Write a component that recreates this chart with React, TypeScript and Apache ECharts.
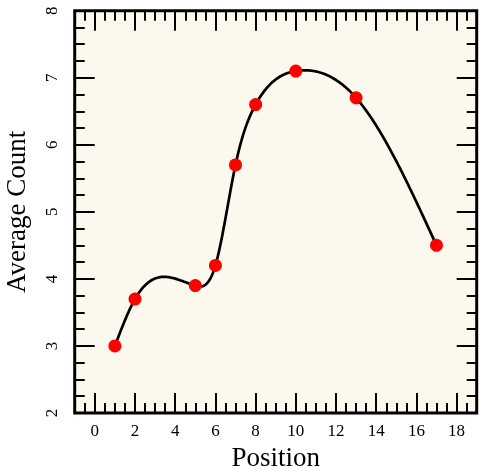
import React, { useEffect, useRef } from "react";
import * as echarts from "echarts";

const positions = [1, 2, 5, 6, 7, 8, 10, 13, 17];
const averageCounts = [3, 3.7, 3.9, 4.2, 5.7, 6.6, 7.1, 6.7, 4.5];
const xMajorTicks = [0, 2, 4, 6, 8, 10, 12, 14, 16, 18];
const xRange = [-1, 19];
const yRange = [2, 8];

const FONT = "'Liberation Serif', 'DejaVu Serif', serif";

function naturalSpline(xs: number[], ys: number[]) {
  const n = xs.length;
  const h: number[] = [];
  for (let i = 0; i < n - 1; i++) h.push(xs[i + 1] - xs[i]);
  const a: number[] = new Array(n).fill(0);
  const b: number[] = new Array(n).fill(1);
  const c: number[] = new Array(n).fill(0);
  const d: number[] = new Array(n).fill(0);
  for (let i = 1; i < n - 1; i++) {
    a[i] = h[i - 1];
    b[i] = 2 * (h[i - 1] + h[i]);
    c[i] = h[i];
    d[i] = 6 * ((ys[i + 1] - ys[i]) / h[i] - (ys[i] - ys[i - 1]) / h[i - 1]);
  }
  const cp = new Array(n).fill(0);
  const dp = new Array(n).fill(0);
  cp[0] = c[0] / b[0];
  dp[0] = d[0] / b[0];
  for (let i = 1; i < n; i++) {
    const m = b[i] - a[i] * cp[i - 1];
    cp[i] = c[i] / m;
    dp[i] = (d[i] - a[i] * dp[i - 1]) / m;
  }
  const M = new Array(n).fill(0);
  M[n - 1] = dp[n - 1];
  for (let i = n - 2; i >= 0; i--) M[i] = dp[i] - cp[i] * M[i + 1];
  return (x: number) => {
    let i = 0;
    while (i < n - 2 && x > xs[i + 1]) i++;
    const hi = h[i];
    const t1 = xs[i + 1] - x;
    const t0 = x - xs[i];
    return (
      (M[i] * t1 * t1 * t1) / (6 * hi) +
      (M[i + 1] * t0 * t0 * t0) / (6 * hi) +
      (ys[i] / hi - (M[i] * hi) / 6) * t1 +
      (ys[i + 1] / hi - (M[i + 1] * hi) / 6) * t0
    );
  };
}

export default function App() {
  const ref = useRef<HTMLDivElement>(null);
  useEffect(() => {
    if (!ref.current) return;
    const chart = echarts.init(ref.current, null, { renderer: "svg" });
    const spline = naturalSpline(positions, averageCounts);
    const tickStyle = { color: "#000", width: 2 };
    const noLine = { show: false, onZero: false };

    const minorX = (pos: string) => ({
      type: "value",
      position: pos,
      min: xRange[0],
      max: xRange[1],
      interval: 0.5,
      axisLine: noLine,
      axisTick: { show: true, inside: true, length: 10, lineStyle: tickStyle },
      axisLabel: { show: false },
      splitLine: { show: false },
    });
    const majorX = (pos: string, labels: boolean) => ({
      type: "value",
      position: pos,
      min: xRange[0],
      max: xRange[1],
      axisLine: noLine,
      axisTick: {
        show: true,
        inside: true,
        length: 20,
        customValues: xMajorTicks,
        lineStyle: tickStyle,
      },
      axisLabel: labels
        ? {
            show: true,
            customValues: xMajorTicks,
            color: "#000",
            fontSize: 17,
            fontFamily: FONT,
            margin: 9,
          }
        : { show: false },
      splitLine: { show: false },
      ...(labels
        ? {
            name: "Position",
            nameLocation: "middle",
            nameGap: 30,
            nameTextStyle: { color: "#000", fontSize: 27, fontFamily: FONT },
          }
        : {}),
    });
    const minorY = (pos: string) => ({
      type: "value",
      position: pos,
      min: yRange[0],
      max: yRange[1],
      interval: 0.25,
      axisLine: noLine,
      axisTick: { show: true, inside: true, length: 10, lineStyle: tickStyle },
      axisLabel: { show: false },
      splitLine: { show: false },
    });
    const majorY = (pos: string, labels: boolean) => ({
      type: "value",
      position: pos,
      min: yRange[0],
      max: yRange[1],
      interval: 1,
      axisLine: noLine,
      axisTick: { show: true, inside: true, length: 20, lineStyle: tickStyle },
      axisLabel: labels
        ? {
            show: true,
            rotate: 90,
            color: "#000",
            fontSize: 17,
            fontFamily: FONT,
            margin: 14.5,
            showMinLabel: true,
            showMaxLabel: true,
          }
        : { show: false },
      splitLine: { show: false },
      ...(labels
        ? {
            name: "Average Count",
            nameLocation: "middle",
            nameGap: 45,
            nameTextStyle: { color: "#000", fontSize: 27, fontFamily: FONT },
          }
        : {}),
    });

    chart.setOption({
      animation: false,
      grid: {
        left: 74.7,
        right: 2.3,
        top: 10.7,
        bottom: 58,
        containLabel: false,
        outerBoundsMode: "none",
        show: true,
        backgroundColor: "#fdf8ed",
        borderColor: "#000",
        borderWidth: 3,
      },
      xAxis: [majorX("bottom", true), minorX("bottom"), majorX("top", false), minorX("top")],
      yAxis: [majorY("left", true), minorY("left"), majorY("right", false), minorY("right")],
      series: [
        {
          type: "custom",
          xAxisIndex: 0,
          yAxisIndex: 0,
          data: positions.map((x, i) => [x, averageCounts[i]]),
          z: 2,
          renderItem: (params: any, api: any) => {
            if (params.dataIndex !== 0) return null;
            const pts: number[][] = [];
            const x0 = positions[0];
            const x1 = positions[positions.length - 1];
            const steps = 400;
            for (let k = 0; k <= steps; k++) {
              const x = x0 + ((x1 - x0) * k) / steps;
              pts.push(api.coord([x, spline(x)]));
            }
            return {
              type: "polyline",
              shape: { points: pts },
              style: { stroke: "#000", lineWidth: 2.7, fill: null },
            };
          },
        },
        {
          type: "scatter",
          xAxisIndex: 0,
          yAxisIndex: 0,
          data: positions.map((x, i) => [x, averageCounts[i]]),
          symbolSize: 13,
          itemStyle: { color: "#ff0000", opacity: 1 },
          z: 3,
        },
      ],
    });
    return () => chart.dispose();
  }, []);
  return (
    <div
      ref={ref}
      style={{ position: "fixed", left: 0, top: 0, width: 479, height: 471 }}
    />
  );
}
